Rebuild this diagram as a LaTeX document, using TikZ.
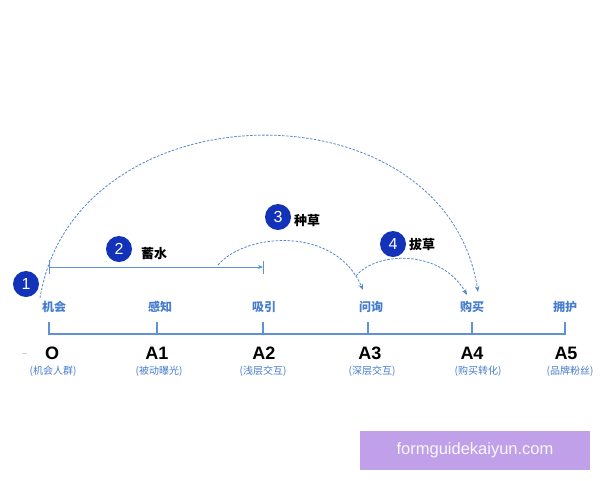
\documentclass[tikz,border=0pt]{standalone}
\usepackage{fontspec}
\setmainfont{Liberation Sans}
\newfontfamily\cjk{Noto Sans CJK SC}
\usetikzlibrary{arrows.meta}
\definecolor{axisblue}{RGB}{95,145,215}
\definecolor{lblblue}{RGB}{70,125,205}
\definecolor{dotblue}{RGB}{85,135,205}
\definecolor{numblue}{RGB}{18,50,185}
\definecolor{wmbg}{RGB}{192,160,232}
\begin{document}
\begin{tikzpicture}[x=1pt,y=-1pt,
  stage/.style={font=\cjk\fontsize{12}{13}\selectfont\bfseries, text=lblblue, inner sep=0pt},
  pt/.style={font=\fontsize{18}{19}\selectfont\bfseries, text=black, inner sep=0pt},
  sub/.style={font=\cjk\fontsize{10}{11}\selectfont, text=lblblue, inner sep=0pt},
  num/.style={circle, fill=numblue, text=white, minimum size=26pt, inner sep=0pt, font=\fontsize{16}{17}\selectfont},
  tag/.style={font=\cjk\fontsize{13}{14}\selectfont\bfseries, text=black, inner sep=0pt, anchor=west},
  axisline/.style={draw=axisblue, line width=1.1pt},
  dasharc/.style={draw=dotblue, line width=0.8pt, dash pattern=on 2.5pt off 1.5pt, -{Stealth[length=6pt,width=4.5pt]}}
]
\useasboundingbox (0,0) rectangle (600,480);
\fill[white] (0,0) rectangle (600,480);

% axis
\coordinate (t0) at (49,334);
\coordinate (t5) at (565,334);
\draw[axisline] (49,322) -- (t0) -- (t5) -- (565,322);
\foreach \x in {157,263,368,472}{
  \draw[axisline] (\x,334) -- (\x,322);
}

% stage labels
\node[stage] (s0) at (54,307) {机会};
\node[stage] (s1) at (160,307) {感知};
\node[stage] (s2) at (264,307) {吸引};
\node[stage] (s3) at (371,307) {问询};
\node[stage] (s4) at (472,307) {购买};
\node[stage] (s5) at (565,307) {拥护};

% point labels
\node[pt] (p0) at (52,353) {O};
\node[pt] (p1) at (157,353) {A1};
\node[pt] (p2) at (264,353) {A2};
\node[pt] (p3) at (370,353) {A3};
\node[pt] (p4) at (472,353) {A4};
\node[pt] (p5) at (566,353) {A5};
\node[sub] (q0) at (53,371) {(机会人群)};
\node[sub] (q1) at (159,371) {(被动曝光)};
\node[sub] (q2) at (263,371) {(浅层交互)};
\node[sub] (q3) at (372,371) {(深层交互)};
\node[sub] (q4) at (478,371) {(购买转化)};
\node[sub] (q5) at (570,371) {(品牌粉丝)};
\draw[gray!35, line width=0.8pt] (22,353) -- (27,353);

% bracket 蓄水
\coordinate (b0) at (49,267);
\coordinate (b1) at (263,267);
\draw[axisline, line width=0.9pt] (49,260) -- (49,274);
\draw[axisline, line width=0.9pt] (263,261) -- (263,274);
\draw[axisline, line width=0.9pt, -{Stealth[length=5pt,width=4pt]}] (b0) -- (b1);

% numbered circles
\node[num] (c1) at (26,284) {1};
\node[num] (c2) at (119,249) {2};
\node[tag] (l2) at (141,254) {蓄水};
\node[num] (c3) at (278,217) {3};
\node[tag] (l3) at (294,221) {种草};
\node[num] (c4) at (393,244) {4};
\node[tag] (l4) at (409,245) {拔草};

% dashed arcs
\coordinate (a1s) at (40,298);
\coordinate (a1e) at (478,292);
\draw[dasharc] (a1s) .. controls (75,85) and (445,80) .. (a1e);
\coordinate (a3s) at (218,265);
\coordinate (a3e) at (363,290);
\draw[dasharc] (a3s) .. controls (245,233) and (335,225) .. (a3e);
\coordinate (a4s) at (356,276);
\coordinate (a4e) at (467,295);
\draw[dasharc] (a4s) .. controls (375,252) and (440,248) .. (a4e);

% watermark
\node[fill=wmbg, minimum width=230pt, minimum height=39pt, inner sep=0pt, text=white!92!wmbg, font=\fontsize{16.5}{17}\selectfont] (wm) at (475,450.5) {formguidekaiyun.com};
\end{tikzpicture}
\end{document}
